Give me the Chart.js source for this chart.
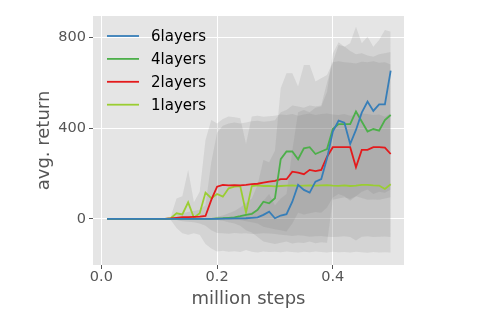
<!DOCTYPE html>
<html>
<head>
<meta charset="utf-8">
<script src="https://cdn.jsdelivr.net/npm/chart.js@4.4.0/dist/chart.umd.min.js"></script>
<style>
  html, body { margin: 0; padding: 0; background: #fff; }
</style>
</head>
<body>
<canvas id="myChart" width="498" height="312"></canvas>
<script>
// x positions (million steps)
const steps = [0.01,0.02,0.03,0.04,0.05,0.06,0.07,0.08,0.09,0.10,
               0.11,0.12,0.13,0.14,0.15,0.16,0.17,0.18,0.19,0.20,
               0.21,0.22,0.23,0.24,0.25,0.26,0.27,0.28,0.29,0.30,
               0.31,0.32,0.33,0.34,0.35,0.36,0.37,0.38,0.39,0.40,
               0.41,0.42,0.43,0.44,0.45,0.46,0.47,0.48,0.49,0.50];

const labels = ['6layers', '4layers', '2layers', '1layers'];
const colors = ['#377eb8', '#4daf4a', '#e41a1c', '#9acd32'];

// mean returns
const avg6 = [0,0,0,0,0,0,0,0,0,0, 0,0,0,0,0,0,0,0,0,0, 1,1,2,2,3,5,7,18,32,3,
              15,21,76,150,128,116,164,175,267,385, 433,424,330,392,468,517,476,505,505,653];
const avg4 = [0,0,0,0,0,0,0,0,0,0, 0,0,0,0,0,0,0,0,0,2, 3,5,7,12,18,22,40,76,69,91,
              263,297,297,263,311,316,286,297,308,396, 418,418,418,473,429,385,396,389,436,458];
const avg2 = [0,0,0,0,0,0,0,0,0,0, 0,2,5,8,8,9,10,13,84,142, 150,148,149,148,150,153,155,160,164,168,
              175,175,208,204,197,216,211,216,274,316, 316,316,316,228,304,304,316,316,314,286];
const avg1 = [0,0,0,0,0,0,0,0,0,0, 0,3,25,20,73,5,25,116,91,110, 98,135,142,145,28,145,148,145,146,143,
              145,147,148,146,147,148,147,148,149,147, 146,148,145,147,150,150,148,147,132,153];

// shaded spread (upper / lower)
const hi6 = [0,0,0,0,0,0,0,0,0,0, 0,0,0,0,0,0,0,0,0,0, 5,5,10,10,20,30,40,80,110,60,
             90,110,300,470,480,470,490,495,560,729, 778,759,774,847,774,803,759,788,832,825];
const lo6 = [0,0,0,0,0,0,0,0,0,0, 0,0,0,0,0,0,0,0,0,0, -3,-3,-5,-5,-10,-15,-20,-35,-40,-45,
             -50,-55,-20,27,20,25,30,27,50,94, 110,100,80,100,120,130,110,120,115,130];
const hi4 = [0,0,0,0,0,0,0,0,0,0, 0,0,0,0,0,0,0,0,0,10, 15,25,35,50,70,90,150,260,250,300,
             576,642,642,583,678,678,605,620,634,690, 766,760,740,725,730,720,715,725,730,735];
const lo4 = [0,0,0,0,0,0,0,0,0,0, 0,0,0,0,0,0,0,0,0,-5, -8,-15,-20,-30,-50,-60,-80,-100,-105,-110,
             -105,-100,-108,-104,-106,-100,-107,-103,-105,84, 90,95,88,100,92,84,86,84,90,95];
const hi2 = [0,0,0,0,0,0,0,0,0,0, 0,5,15,25,30,35,40,60,250,380, 410,420,425,420,425,430,432,428,430,435,
             470,480,500,495,490,500,495,500,600,690, 695,690,688,685,692,690,695,688,690,680];
const lo2 = [0,0,0,0,0,0,0,0,0,0, 0,-2,-5,-10,-12,-15,-20,-30,-50,-62, -63,-65,-62,-64,-63,-66,-65,-63,-64,-66,
             -70,-72,-75,-72,-74,-78,-76,-75,-78,-80, -78,-76,-80,-95,-78,-76,-80,-78,-77,-80];
const hi1 = [0,0,0,0,0,0,0,0,0,0, 0,10,90,100,216,73,120,348,436,420, 440,451,448,444,330,451,455,450,452,455,
             460,458,462,455,460,465,458,462,465,460, 458,462,455,460,465,462,458,460,450,465];
const lo1 = [0,0,0,0,0,0,0,0,0,0, 0,-5,-40,-63,-70,-63,-70,-110,-130,-144, -140,-145,-142,-146,-137,-145,-148,-144,-146,-145,
             -147,-143,-146,-148,-145,-147,-144,-146,-148,-145, -147,-146,-148,-145,-147,-149,-146,-148,-147,-148];

const xTicks = [0, 0.2, 0.4];
const yTicks = [0, 400, 800];

const pts = arr => arr.map((v, i) => ({ x: steps[i], y: v }));
const bandFill = 'rgba(115,115,115,0.15)';

const lineSet = (i, arr) => ({
    label: labels[i], data: pts(arr), borderColor: colors[i], borderWidth: 1.8,
    pointRadius: 0, fill: false, tension: 0
});
const bandSet = (arr, fill) => ({
    label: '', data: pts(arr), borderWidth: 0, pointRadius: 0,
    backgroundColor: bandFill, fill: fill, tension: 0
});

const bgPlugin = {
    id: 'plotBg',
    beforeDraw(chart) {
        const { ctx, chartArea: a } = chart;
        ctx.save();
        ctx.fillStyle = '#e5e5e5';
        ctx.fillRect(a.left, a.top, a.right - a.left, a.bottom - a.top);
        ctx.restore();
    }
};

// legend drawn inside the plot, top-left, no frame
const legendPlugin = {
    id: 'innerLegend',
    afterDatasetsDraw(chart) {
        const { ctx, chartArea: a } = chart;
        ctx.save();
        ctx.font = '15px "DejaVu Sans"';
        ctx.textBaseline = 'middle';
        labels.forEach((lab, i) => {
            const y = a.top + 20 + i * 22.9;
            ctx.strokeStyle = colors[i];
            ctx.lineWidth = 1.8;
            ctx.beginPath();
            ctx.moveTo(a.left + 14, y);
            ctx.lineTo(a.left + 46, y);
            ctx.stroke();
            ctx.fillStyle = '#000';
            ctx.fillText(lab, a.left + 58, y + 1);
        });
        ctx.restore();
    }
};

const tickFont = { family: 'DejaVu Sans', size: 14.5 };
const titleFont = { family: 'DejaVu Sans', size: 18 };

new Chart(document.getElementById('myChart'), {
    type: 'line',
    data: {
        datasets: [
            lineSet(0, avg6), lineSet(1, avg4), lineSet(2, avg2), lineSet(3, avg1),
            bandSet(hi6, '+1'), bandSet(lo6, false),
            bandSet(hi4, '+1'), bandSet(lo4, false),
            bandSet(hi2, '+1'), bandSet(lo2, false),
            bandSet(hi1, '+1'), bandSet(lo1, false)
        ]
    },
    options: {
        responsive: false,
        animation: false,
        devicePixelRatio: 1,
        layout: { padding: { left: 0, top: 16, right: 94, bottom: 0 } },
        plugins: { legend: { display: false }, tooltip: { enabled: false } },
        scales: {
            x: {
                type: 'linear', min: -0.0144, max: 0.523,
                afterBuildTicks: s => { s.ticks = xTicks.map(v => ({ value: v })); },
                afterFit: s => { s.height = 47; },
                ticks: { font: tickFont, color: '#555', padding: 0, callback: v => v.toFixed(1), maxRotation: 0 },
                grid: { color: '#fff', lineWidth: 1, tickColor: '#555', tickLength: 4 },
                border: { display: false },
                title: { display: true, text: 'million steps', font: titleFont, color: '#555', padding: { top: 0, bottom: 2 } }
            },
            y: {
                type: 'linear', min: -203, max: 894,
                afterBuildTicks: s => { s.ticks = yTicks.map(v => ({ value: v })); },
                afterFit: s => { s.width = 93; },
                ticks: { font: tickFont, color: '#555', padding: 3 },
                grid: { color: '#fff', lineWidth: 1, tickColor: '#555', tickLength: 4 },
                border: { display: false },
                title: { display: true, text: 'avg. return', font: titleFont, color: '#555', padding: { top: 34, bottom: 0 } }
            }
        }
    },
    plugins: [bgPlugin, legendPlugin]
});
</script>
</body>
</html>
